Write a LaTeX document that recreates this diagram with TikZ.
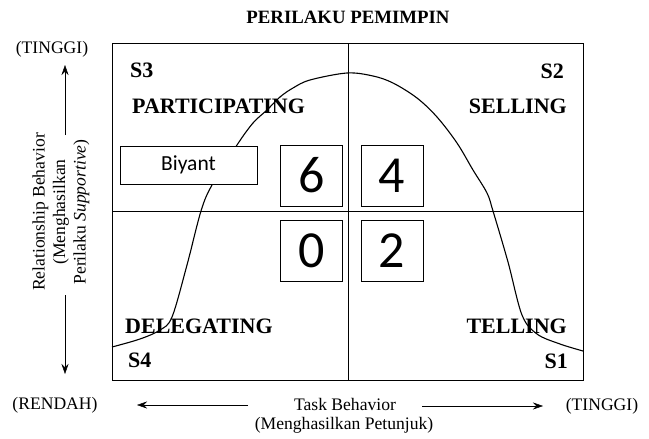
\documentclass[tikz,border=0pt]{standalone}
\usepackage{fontspec}
\setmainfont{Liberation Serif}
\newfontfamily\calibri{Carlito}
\usetikzlibrary{arrows.meta, positioning}
\tikzset{>={Stealth[length=10pt, width=7pt]}, line width=1.4pt,
	quadrant/.style={font=\fontsize{22}{24}\selectfont\bfseries, inner sep=0pt},
	heading/.style={font=\fontsize{18.8}{20}\selectfont\bfseries, inner sep=0pt},
	axis text/.style={font=\fontsize{17.6}{20.5}\selectfont, inner sep=0pt},
	name box/.style={draw, fill=white, minimum width=137pt, minimum height=38pt, inner sep=0pt, font=\calibri\fontsize{21.5}{21.5}\selectfont},
	score box/.style={draw, fill=white, minimum width=62pt, minimum height=61pt, inner sep=0pt, font=\calibri\fontsize{52}{52}\selectfont}}

\begin{document}
\begin{tikzpicture}[x=1pt, y=-1pt]
	\useasboundingbox (0,0) rectangle (649,439);
	% quadrant grid
	\coordinate (NW) at (112,43);
	\coordinate (SE) at (583,380);
	\draw (NW) rectangle (SE);
	\draw (348,43) -- (348,380);
	\draw (112,211) -- (583,211);
	\draw[line width=1.1pt] plot[smooth, tension=0.55] coordinates {(112,347) (140,339) (160,330) (172,317) (187,265) (201,211) (212,185) (237,145) (253,123) (267,110) (280,97) (293,88) (310,80) (347,73) (373,76) (393,83) (417,98) (437,117) (457,143) (473,170) (487,193) (493,211) (508,262) (522,315) (537,334) (560,344) (583,351)};
	\node[heading] (Title) at (348,17) {PERILAKU PEMIMPIN};
	\node[quadrant, anchor=west] (S3) at (130,70) {S3};
	\node[quadrant, anchor=west] (Participating) at (132,106) {PARTICIPATING};
	\node[quadrant, anchor=east] (S2) at (564,71) {S2};
	\node[quadrant, anchor=east] (Selling) at (567,106) {SELLING};
	\node[quadrant, anchor=west] (Delegating) at (125,326) {DELEGATING};
	\node[quadrant, anchor=west] (S4) at (128,360) {S4};
	\node[quadrant, anchor=east] (Telling) at (567,326) {TELLING};
	\node[quadrant, anchor=east] (S1) at (568,361) {S1};
	\node[name box] (Biyant) at (188.5,165) {Biyant};
	\node[score box] (Score 6) at (311.5,175.5) {6};
	\node[score box] (Score 4) at (392,175.5) {4};
	\node[score box] (Score 0) at (311.5,250.5) {0};
	\node[score box] (Score 2) at (392,251) {2};
	% vertical axis
	\node[axis text] (Y High) at (52,49) {(TINGGI)};
	\node[axis text, rotate=90, align=center] (Y Label) at (61,212) {Relationship Behavior\\(Menghasilkan\\Perilaku \textit{Supportive})};
	\coordinate (Y Top) at (65,65);
	\coordinate (Y Up) at (65,135);
	\coordinate (Y Down) at (65,295);
	\coordinate (Y Bottom) at (65,374);
	\draw[->] (Y Up) -- (Y Top);
	\draw[->] (Y Down) -- (Y Bottom);
	% horizontal axis
	\node[axis text] (X Low) at (55,405) {(RENDAH)};
	\node[axis text] (X Label) at (345,404) {Task Behavior};
	\node[axis text] (X Sub) at (344,425) {(Menghasilkan Petunjuk)};
	\node[axis text] (X High) at (602,406) {(TINGGI)};
	\coordinate (X Left) at (248,405);
	\coordinate (X Left End) at (137,405);
	\coordinate (X Right) at (422,406);
	\coordinate (X Right End) at (543,406);
	\draw[->] (X Left) -- (X Left End);
	\draw[->] (X Right) -- (X Right End);
\end{tikzpicture}
\end{document}
